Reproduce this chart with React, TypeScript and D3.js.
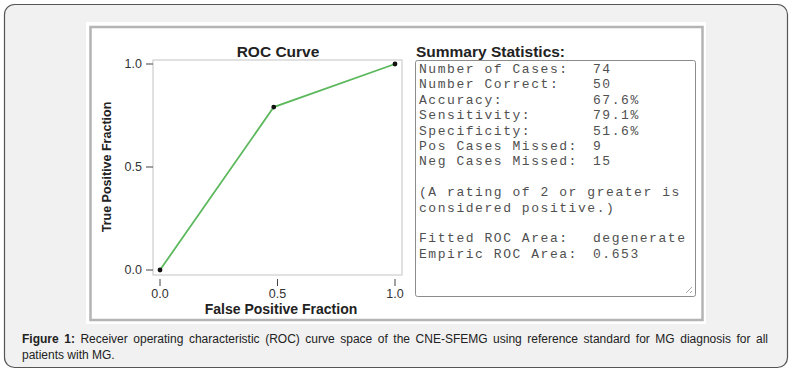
import React, { useLayoutEffect, useRef, useState } from 'react';
import * as d3 from 'd3';

// roc points (fpf, tpf)
const fpf = [0, 0.484, 1];
const tpf = [0, 0.791, 1];
const tickValues = [0, 0.5, 1];

const statLabels = [
  'Number of Cases:', 'Number Correct:', 'Accuracy:', 'Sensitivity:',
  'Specificity:', 'Pos Cases Missed:', 'Neg Cases Missed:',
];
const statValues = ['74', '50', '67.6%', '79.1%', '51.6%', '9', '15'];
const noteLines = ['(A rating of 2 or greater is', 'considered positive.)'];
const areaLabels = ['Fitted ROC Area:', 'Empiric ROC Area:'];
const areaValues = ['degenerate', '0.653'];

const captionLine1 =
  'Receiver operating characteristic (ROC) curve space of the CNE-SFEMG using reference standard for MG diagnosis for all';
const captionLine2 = 'patients with MG.';

const W = 793;
const H = 375;
const sans = 'Liberation Sans, Arial, sans-serif';
const mono = 'Liberation Mono, Courier New, monospace';

export default function App() {
  const capRef = useRef<SVGTextElement>(null);
  const [wordSp, setWordSp] = useState(0);

  // justify first caption line like the original figure
  useLayoutEffect(() => {
    if (!capRef.current) return;
    const natural = capRef.current.getComputedTextLength();
    const spaces = ('Figure 1: ' + captionLine1).split(' ').length - 1;
    setWordSp((768 - 22 - natural) / spaces);
  }, []);

  const x = d3.scaleLinear().domain([0, 1]).range([160, 395]);
  const y = d3.scaleLinear().domain([0, 1]).range([270, 64]);
  const fmt = d3.format('.1f');

  const pts = fpf.map((f, i) => [f, tpf[i]] as [number, number]);
  const line = d3.line<[number, number]>().x(d => x(d[0])).y(d => y(d[1]))(pts);

  const frame = { x0: 153, x1: 402, y0: 60, y1: 275 };

  const lh = 15.4;
  const tx = 419;
  const vx = 593;
  const top = 73;

  return (
    <svg width={W} height={H} style={{ position: 'absolute', left: 0, top: 0 }}>
      <rect x={0} y={0} width={W} height={H} fill="#fff" />
      <rect x={4.5} y={4.5} width={783} height={363} rx={10} fill="#f1f1f1" stroke="#555" strokeWidth={1.2} />

      {/* image panel */}
      <rect x={86} y={22} width={620} height={302} fill="#fff" />
      <rect x={90.5} y={27} width={612} height={293} fill="#fff" stroke="#b4b4b4" strokeWidth={2.5} />

      {/* roc plot */}
      <text x={278} y={57} textAnchor="middle" fontFamily={sans} fontWeight="bold" fontSize={15.5} fill="#222">ROC Curve</text>
      <rect x={frame.x0} y={frame.y0} width={frame.x1 - frame.x0} height={frame.y1 - frame.y0} fill="none" stroke="#d2d2d2" strokeWidth={1.3} />

      <g className="y-axis">
        {tickValues.map(t => (
          <g key={t} transform={`translate(0,${y(t)})`}>
            <line x1={146} x2={153} stroke="#444" />
            <text x={142} dy=".35em" textAnchor="end" fontFamily={sans} fontSize={12.5} fill="#333">{fmt(t)}</text>
          </g>
        ))}
      </g>
      <g className="x-axis">
        {tickValues.map(t => (
          <g key={t} transform={`translate(${x(t)},0)`}>
            <line y1={279} y2={286} stroke="#444" />
            <text y={298} textAnchor="middle" fontFamily={sans} fontSize={12.5} fill="#333">{fmt(t)}</text>
          </g>
        ))}
      </g>
      <text x={281} y={314} textAnchor="middle" fontFamily={sans} fontWeight="bold" fontSize={14} fill="#222">False Positive Fraction</text>
      <text transform="translate(111,167) rotate(-90)" textAnchor="middle" fontFamily={sans} fontWeight="bold" fontSize={12.5} fill="#222">True Positive Fraction</text>

      <path d={line ?? ''} fill="none" stroke="#5cb85c" strokeWidth={1.8} />
      {pts.map((d, i) => (
        <circle key={i} cx={x(d[0])} cy={y(d[1])} r={2.4} fill="#111" />
      ))}

      {/* summary */}
      <text x={416} y={57} fontFamily={sans} fontWeight="bold" fontSize={15.5} fill="#222">Summary Statistics:</text>
      <rect x={415.5} y={60.5} width={280} height={236} rx={2} fill="#fff" stroke="#8c8c8c" />
      <line x1={692} y1={287} x2={686} y2={293} stroke="#aaa" />
      <line x1={692} y1={291} x2={690} y2={293} stroke="#aaa" />
      <g fontFamily={mono} fontSize={13} letterSpacing={1.55} fill="#505050">
        {statLabels.map((l, i) => (
          <g key={l}>
            <text x={tx} y={top + i * lh}>{l}</text>
            <text x={vx} y={top + i * lh}>{statValues[i]}</text>
          </g>
        ))}
        {noteLines.map((l, i) => (
          <text key={l} x={tx} y={top + (8 + i) * lh} style={{ whiteSpace: 'pre' }}>{l}</text>
        ))}
        {areaLabels.map((l, i) => (
          <g key={l}>
            <text x={tx} y={top + (11 + i) * lh}>{l}</text>
            <text x={vx} y={top + (11 + i) * lh}>{areaValues[i]}</text>
          </g>
        ))}
      </g>

      {/* caption */}
      <text ref={capRef} x={22} y={343} fontFamily={sans} fontSize={12} fill="#222" wordSpacing={wordSp}>
        <tspan fontWeight="bold">Figure 1:</tspan> {captionLine1}
      </text>
      <text x={22} y={359} fontFamily={sans} fontSize={12} fill="#222">{captionLine2}</text>
    </svg>
  );
}
